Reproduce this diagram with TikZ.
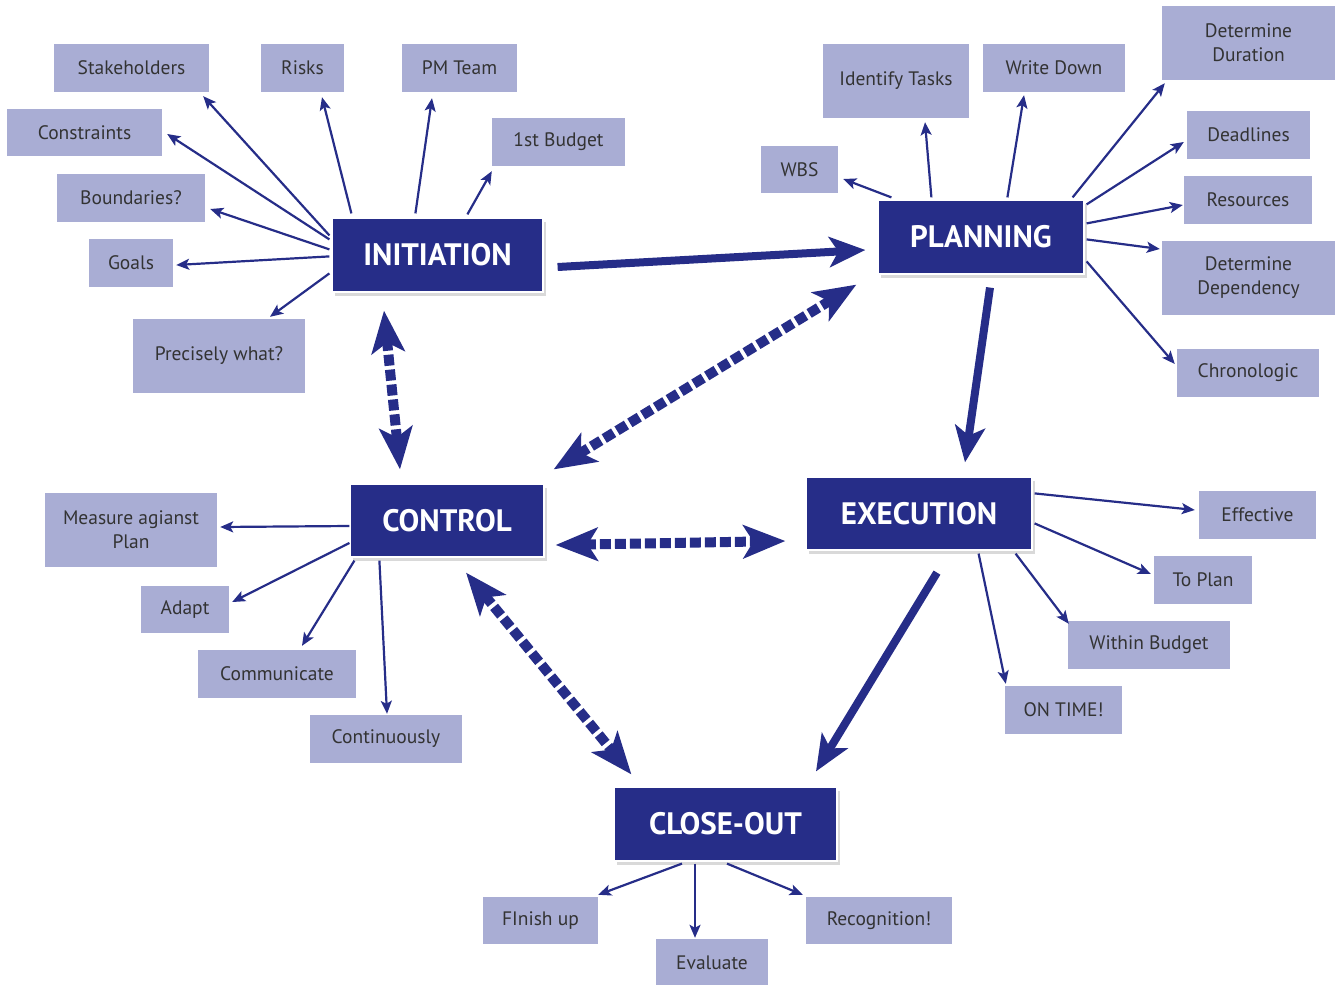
\documentclass[tikz,border=0pt]{standalone}
\usepackage{fontspec}
\setmainfont{PT Sans}
\usetikzlibrary{arrows.meta,shadows}
\definecolor{dblue}{HTML}{262D88}
\definecolor{lblue}{HTML}{A9ADD4}
\definecolor{tgray}{HTML}{333333}
\tikzset{
  sbox/.style={rectangle, fill=lblue, inner sep=0pt, text=tgray, align=center,
    font=\fontsize{19.5}{24}\selectfont, yshift=-1pt},
  mbox/.style={rectangle, fill=dblue, draw=white, line width=1.2pt, inner sep=0pt,
    text=white, font=\fontsize{31}{34}\selectfont\bfseries,
    drop shadow={opacity=0.3, shadow xshift=3pt, shadow yshift=-4pt}},
  conn/.style={draw=dblue, line width=2.2pt, -{Stealth[length=13pt,width=11pt,inset=3pt]}},
  thick arrow/.style={draw=dblue, line width=8pt, -{Stealth[length=36pt,width=30pt,inset=9pt]}},
  dash arrow/.style={draw=dblue, line width=10pt, dash pattern=on 11pt off 4pt,
    {Stealth[length=42pt,width=33pt,inset=10pt]}-{Stealth[length=42pt,width=33pt,inset=10pt]}},
}
\begin{document}
\begin{tikzpicture}[x=1pt,y=-1pt]
\useasboundingbox (0,0) rectangle (1341,985);
% small boxes
\node[sbox, minimum width=155pt, minimum height=48pt] (stake) at (131.5,67) {Stakeholders};
\node[sbox, minimum width=83pt, minimum height=48pt] (risks) at (302.5,67) {Risks};
\node[sbox, minimum width=115pt, minimum height=48pt] (pmteam) at (459.5,67) {PM Team};
\node[sbox, minimum width=133pt, minimum height=48pt] (budget) at (558.5,141) {1st Budget};
\node[sbox, minimum width=155pt, minimum height=47pt] (constr) at (84.5,131.5) {Constraints};
\node[sbox, minimum width=148pt, minimum height=48pt] (bound) at (131,197) {Boundaries?};
\node[sbox, minimum width=84pt, minimum height=48pt] (goals) at (131,262) {Goals};
\node[sbox, minimum width=172pt, minimum height=74pt] (prec) at (219,355) {Precisely what?};
\node[sbox, minimum width=77pt, minimum height=47pt] (wbs) at (799.5,168.5) {WBS};
\node[sbox, minimum width=146pt, minimum height=74pt] (ident) at (896,80) {Identify Tasks};
\node[sbox, minimum width=142pt, minimum height=48pt] (write) at (1054,67) {Write Down};
\node[sbox, minimum width=173pt, minimum height=74pt] (dur) at (1248.5,42) {Determine\\Duration};
\node[sbox, minimum width=123pt, minimum height=48pt] (dead) at (1248.5,134) {Deadlines};
\node[sbox, minimum width=128pt, minimum height=48pt] (res) at (1248,199) {Resources};
\node[sbox, minimum width=173pt, minimum height=74pt] (dep) at (1248.5,277) {Determine\\Dependency};
\node[sbox, minimum width=142pt, minimum height=48pt] (chron) at (1248,372) {Chronologic};
\node[sbox, minimum width=172pt, minimum height=74pt] (meas) at (131,529) {Measure agianst\\Plan};
\node[sbox, minimum width=88pt, minimum height=47pt] (adapt) at (185,608.5) {Adapt};
\node[sbox, minimum width=158pt, minimum height=48pt] (comm) at (277,673) {Communicate};
\node[sbox, minimum width=152pt, minimum height=48pt] (cont) at (386,738) {Continuously};
\node[sbox, minimum width=117pt, minimum height=48pt] (eff) at (1257.5,514) {Effective};
\node[sbox, minimum width=98pt, minimum height=48pt] (toplan) at (1203,579) {To Plan};
\node[sbox, minimum width=162pt, minimum height=48pt] (wbud) at (1149,644) {Within Budget};
\node[sbox, minimum width=117pt, minimum height=48pt] (ontime) at (1063.5,709) {ON TIME!};
\node[sbox, minimum width=115pt, minimum height=47pt] (finish) at (540.5,919.5) {FInish up};
\node[sbox, minimum width=112pt, minimum height=47pt] (eval) at (712,961.5) {Evaluate};
\node[sbox, minimum width=146pt, minimum height=47pt] (recog) at (879,919.5) {Recognition!};
% main boxes
\node[mbox, minimum width=211pt, minimum height=74pt] (init) at (437.5,255) {INITIATION};
\node[mbox, minimum width=206pt, minimum height=74pt] (plan) at (981,237) {PLANNING};
\node[mbox, minimum width=194pt, minimum height=73pt] (ctrl) at (447,520.5) {CONTROL};
\node[mbox, minimum width=226pt, minimum height=73pt] (exec) at (919,513.5) {EXECUTION};
\node[mbox, minimum width=223pt, minimum height=74pt] (close) at (725.5,824) {CLOSE-OUT};
% initiation connectors
\draw[conn] ([shift={(-2,18)}]init.north west) -- ([shift={(-6,4)}]stake.south east);
\draw[conn] ([shift={(20,-4)}]init.north west) -- ([shift={(19.5,5)}]risks.south);
\draw[conn] ([shift={(84,-4)}]init.north west) -- ([shift={(-27.5,6)}]pmteam.south);
\draw[conn] ([shift={(136,-3)}]init.north west) -- ([shift={(0,5)}]budget.south west);
\draw[conn] ([shift={(-2,22)}]init.north west) -- ([shift={(5,1.5)}]constr.east);
\draw[conn] ([shift={(-2,32)}]init.north west) -- ([shift={(5,11)}]bound.east);
\draw[conn] ([shift={(-2,39)}]init.north west) -- ([shift={(3,2)}]goals.east);
\draw[conn] ([shift={(-2,56)}]init.north west) -- ([shift={(51,-2)}]prec.north);
% planning connectors
\draw[conn] ([shift={(14,-2)}]plan.north west) -- ([shift={(5,9.5)}]wbs.east);
\draw[conn] ([shift={(54,-2)}]plan.north west) -- ([shift={(29,4)}]ident.south);
\draw[conn] ([shift={(130,-2)}]plan.north west) -- ([shift={(-30,3)}]write.south);
\draw[conn] ([shift={(-12,-2)}]plan.north east) -- ([shift={(3,3)}]dur.south west);
\draw[conn] ([shift={(2,5)}]plan.north east) -- ([shift={(-3,7)}]dead.west);
\draw[conn] ([shift={(2,24)}]plan.north east) -- ([shift={(-1,5)}]res.west);
\draw[conn] ([shift={(2,40)}]plan.north east) -- ([shift={(-2,-29)}]dep.west);
\draw[conn] ([shift={(2,62)}]plan.north east) -- ([shift={(-2,-9)}]chron.west);
% execution connectors
\draw[conn] ([shift={(2,17)}]exec.north east) -- ([shift={(-4,-5)}]eff.west);
\draw[conn] ([shift={(2,47)}]exec.north east) -- ([shift={(-3,-6)}]toplan.west);
\draw[conn] ([shift={(-17,3)}]exec.south east) -- ([shift={(1,3)}]wbud.north west);
\draw[conn] ([shift={(-54,3)}]exec.south east) -- ([shift={(1,-2)}]ontime.north west);
% control connectors
\draw[conn] ([shift={(0,5.5)}]ctrl.west) -- ([shift={(3,-3)}]meas.east);
\draw[conn] ([shift={(0,22.5)}]ctrl.west) -- ([shift={(3,-7.5)}]adapt.east);
\draw[conn] ([shift={(5,3)}]ctrl.south west) -- ([shift={(25,-4)}]comm.north);
\draw[conn] ([shift={(30,3)}]ctrl.south west) -- ([shift={(1,-1)}]cont.north);
% close-out connectors
\draw[conn] ([shift={(-43.5,2)}]close.south) -- ([shift={(0,-2)}]finish.north east);
\draw[conn] ([shift={(-30.5,2)}]close.south) -- ([shift={(-17,-1)}]eval.north);
\draw[conn] ([shift={(1.5,2)}]close.south) -- ([shift={(-3,-2)}]recog.north west);
% thick arrows
\draw[thick arrow] ([shift={(14,12)}]init.east) -- ([shift={(-12,13)}]plan.west);
\draw[thick arrow] ([shift={(9,13)}]plan.south) -- ([shift={(46,-14)}]exec.north);
\draw[thick arrow] ([shift={(18,22)}]exec.south) -- ([shift={(90.5,-15)}]close.north);
% dashed double arrows
\draw[dash arrow] ([shift={(-53.5,18)}]init.south) -- ([shift={(-47,-14)}]ctrl.north);
\draw[dash arrow] ([shift={(9,-14)}]ctrl.north east) -- ([shift={(-21,10)}]plan.south west);
\draw[dash arrow] ([shift={(11,24.5)}]ctrl.east) -- ([shift={(-20,27.5)}]exec.west);
\draw[dash arrow] ([shift={(19,15)}]ctrl.south) -- ([shift={(18,-12)}]close.north west);
\end{tikzpicture}
\end{document}
